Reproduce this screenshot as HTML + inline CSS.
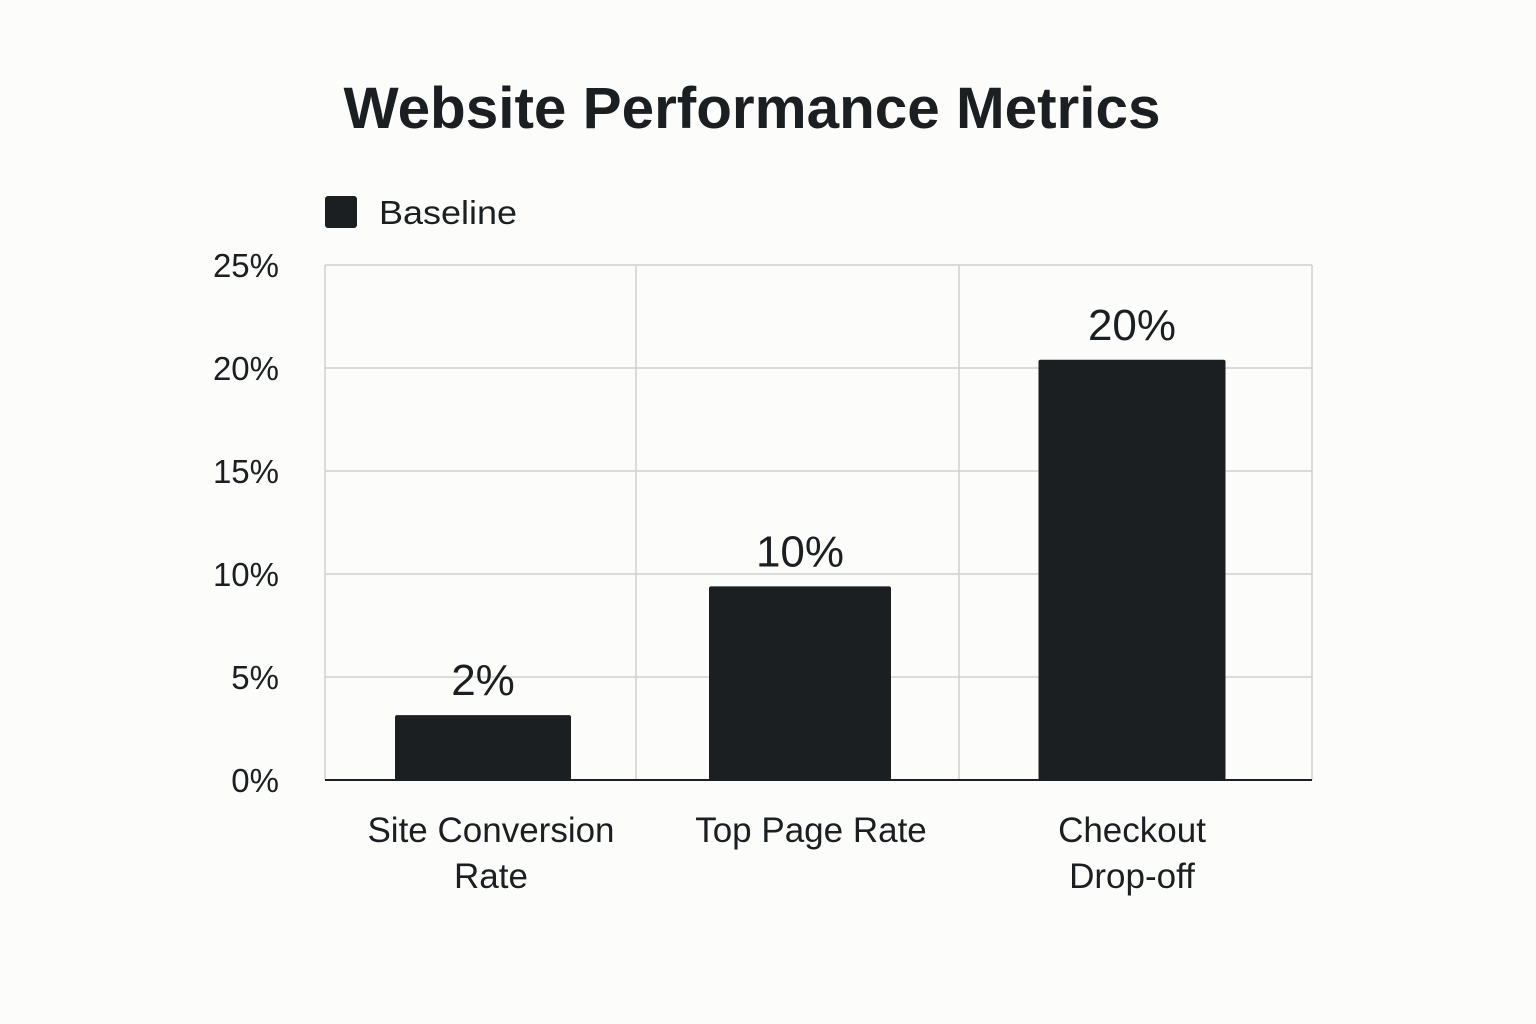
<!DOCTYPE html>
<html><head><meta charset="utf-8"><style>
body{margin:0;background:#fcfcfb;}
svg{display:block;font-family:"Liberation Sans",sans-serif;}
</style></head><body>
<svg id="chart" width="1536" height="1024">
<rect width="1536" height="1024" fill="#fcfcfb"/>
<text x="752" y="128" text-anchor="middle" font-size="58" font-weight="bold" fill="#1b1f22" textLength="817" lengthAdjust="spacingAndGlyphs">Website Performance Metrics</text>
<g>
<rect x="325" y="196" width="32" height="32" rx="3" fill="#1b1f22"/>
<text x="379" y="224" font-size="33" fill="#1b1f22" textLength="138" lengthAdjust="spacingAndGlyphs">Baseline</text>
</g>
<g id="grid"></g><g id="bars"></g><g id="labels"></g>
</svg>
<script>
const categories = [["Site Conversion","Rate"],["Top Page Rate"],["Checkout","Drop-off"]];
const values = [3.15, 9.4, 20.4];
const valueLabels = ["2%","10%","20%"];
const yTicks = [0,5,10,15,20,25];
const tickLabels = ["0%","5%","10%","15%","20%","25%"];

const ns="http://www.w3.org/2000/svg";
const y0=780, y1=265, yMax=25;
const y=v=>y0-(v/yMax)*(y0-y1);
const bands=[325,636,959,1312];
const barW=[176,182,187];
function mk(tag,attrs,parent){const e=document.createElementNS(ns,tag);for(const k in attrs)e.setAttribute(k,attrs[k]);parent.appendChild(e);return e;}
const grid=document.getElementById('grid'),bars=document.getElementById('bars'),labels=document.getElementById('labels');
yTicks.forEach((t,i)=>{
  if(t>0){const l=mk('line',{x1:325,x2:1312,y1:y(t),y2:y(t),stroke:'#d0d0d0','stroke-width':1.5},grid);
  
  }
  const tx=mk('text',{x:279,y:y(t)+12,'text-anchor':'end','font-size':33,fill:'#1b1f22'},labels);
  tx.textContent=tickLabels[i];
  
  
});
bands.forEach((b,i)=>{
  const l=mk('line',{x1:b,x2:b,y1:y1,y2:y0,stroke:'#d0d0d0','stroke-width':1.5},grid);
  
  
});
const ax=mk('line',{x1:325,x2:1312,y1:y0,y2:y0,stroke:'#1b1f22','stroke-width':2},grid);


values.forEach((v,i)=>{
  const cx=[483,800,1132][i], w=barW[i];
  const r=mk('rect',{x:cx-w/2,y:y(v),width:w,height:y0-y(v),rx:2,fill:'#1b1f22'},bars);
  
  
  const vl=mk('text',{x:cx,y:y(v)-20,'text-anchor':'middle','font-size':44,fill:'#1b1f22'},labels);
  vl.textContent=valueLabels[i];
  
  
  categories[i].forEach((line,j)=>{
    const c=mk('text',{x:[491,811,1132][i],y:842+j*46,'text-anchor':'middle','font-size':35,fill:'#1b1f22'},labels);
    c.textContent=line;
    
    
  });
});
</script>
</body></html>
